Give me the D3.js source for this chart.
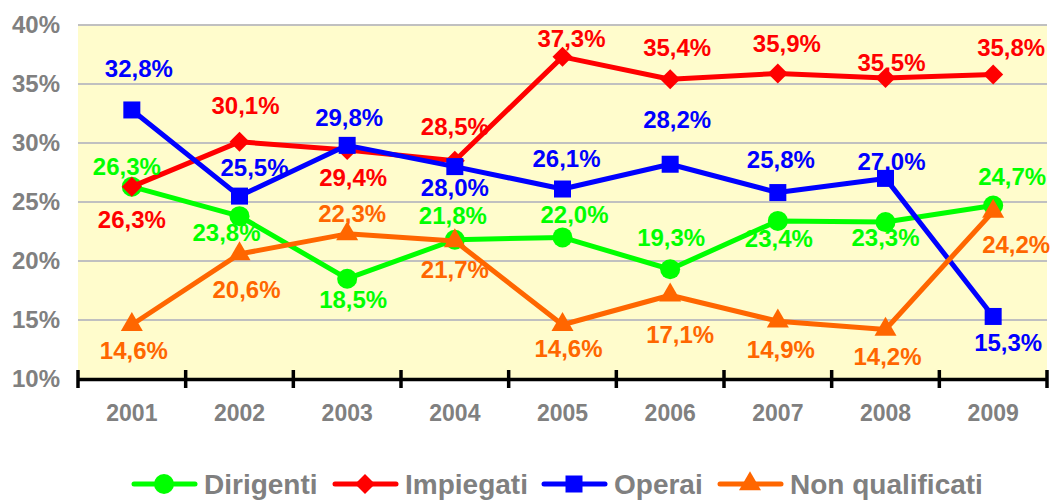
<!DOCTYPE html>
<html>
<head>
<meta charset="utf-8">
<script src="https://cdn.jsdelivr.net/npm/d3@7"></script>
<style>
body { margin:0; background:#fff; }
text { font-family: "Liberation Sans", Arial, sans-serif; font-weight:bold; }
</style>
</head>
<body>
<svg id="graph"></svg>
<script>
var years = ["2001","2002","2003","2004","2005","2006","2007","2008","2009"]
var yTicks = [10,15,20,25,30,35,40]

var dirigenti = [26.3,23.8,18.5,21.8,22.0,19.3,23.4,23.3,24.7]
var impiegati = [26.3,30.1,29.4,28.5,37.3,35.4,35.9,35.5,35.8]
var operai = [32.8,25.5,29.8,28.0,26.1,28.2,25.8,27.0,15.3]
var nonQualificati = [14.6,20.6,22.3,21.7,14.6,17.1,14.9,14.2,24.2]

var seriesNames = ["Dirigenti","Impiegati","Operai","Non qualificati"]

// value label offsets from each point (px), as placed in the original
var labelDx = [
    [-5,-13,6,-2,12,1,1,0,19],
    [0,6,6,0,9,7,9,6,18],
    [7,15,2,0,4,7,3,6,15],
    [2,7,5,0,6,10,3,2,23]
]
var labelDy = [
    [-20,16,21,-24,-23,-32,17,15,-29],
    [33,-36,27,-34,-19,-32,-30,-16,-27],
    [-42,-29,-28,21,-31,-45,-33,-17,26],
    [26,35,-21,28,24,39,28,27,33]
]

var colors = ["#00FF00","#FF0000","#0000FF","#FF6600"]
var symbols = [d3.symbolCircle,d3.symbolSquare,d3.symbolSquare,d3.symbolTriangle]
var symSizes = [314,200,289,210]
var symRotate = [0,45,0,0]

var screen = {width:1050,height:503}
var margins = {left:78,right:3,top:25,bottom:124}
var graph = {
    width:screen.width-margins.left-margins.right,
    height:screen.height-margins.top-margins.bottom
}

var svg = d3.select("#graph")
    .attr("width",screen.width)
    .attr("height",screen.height)

var xScale = d3.scaleBand()
    .domain(years)
    .range([0,graph.width])

var yScale = d3.scaleLinear()
    .domain([10,40])
    .range([graph.height,0])

var target = svg.append("g")
    .attr("transform","translate("+margins.left+","+margins.top+")")

// background
target.append("rect")
    .attr("width",graph.width)
    .attr("height",graph.height)
    .attr("fill","#FFFCCC")

// grid
target.selectAll(".grid")
    .data(yTicks.filter(function(t){return t>10}))
    .enter()
    .append("line")
    .attr("x1",0)
    .attr("x2",graph.width)
    .attr("y1",function(t){return yScale(t)})
    .attr("y2",function(t){return yScale(t)})
    .attr("stroke","#C0C0C0")
    .attr("stroke-width",2)

// y labels
var yAxis = d3.axisLeft(yScale)
    .tickValues(yTicks)
    .tickFormat(function(t){return t+"%"})
    .tickSize(0)
    .tickPadding(18)
var yG = target.append("g").call(yAxis)
yG.select(".domain").remove()
yG.selectAll("text")
    .attr("fill","#808080")
    .style("font-size","24px")

// x axis
var xAxis = d3.axisBottom(xScale).tickSize(0).tickPadding(26)
var xG = target.append("g")
    .attr("transform","translate(0,"+graph.height+")")
    .call(xAxis)
xG.select(".domain").attr("stroke","#000").attr("stroke-width",3.5)
xG.selectAll("text")
    .attr("fill","#808080")
    .style("font-size","23px")

var bounds = years.map(function(y){return xScale(y)}).concat([graph.width])
xG.selectAll(".sep")
    .data(bounds)
    .enter()
    .append("line")
    .attr("x1",function(b){return b})
    .attr("x2",function(b){return b})
    .attr("y1",-9)
    .attr("y2",9)
    .attr("stroke","#000")
    .attr("stroke-width",3.5)

var allSeries = [dirigenti,impiegati,operai,nonQualificati]
var cx = function(i){return xScale(years[i])+xScale.bandwidth()/2}

var line = d3.line()
    .x(function(d,i){return cx(i)})
    .y(function(d){return yScale(d)})

allSeries.forEach(function(vals,s)
{
    var g = target.append("g")
    g.append("path")
        .attr("d",line(vals))
        .attr("fill","none")
        .attr("stroke",colors[s])
        .attr("stroke-width",5)
        .attr("stroke-linejoin","round")
    g.selectAll(".pt")
        .data(vals)
        .enter()
        .append("path")
        .attr("d",d3.symbol().type(symbols[s]).size(symSizes[s]))
        .attr("transform",function(d,i){return "translate("+cx(i)+","+yScale(d)+") rotate("+symRotate[s]+")"})
        .attr("fill",colors[s])
})

allSeries.forEach(function(vals,s)
{
    target.append("g").selectAll(".lbl")
        .data(vals)
        .enter()
        .append("text")
        .text(function(d){return d.toFixed(1).replace(".",",")+"%"})
        .attr("text-anchor","middle")
        .attr("x",function(d,i){return cx(i)+labelDx[s][i]})
        .attr("y",function(d,i){return yScale(d)+labelDy[s][i]})
        .attr("dy","0.36em")
        .attr("fill",colors[s])
        .style("font-size","24px")
})

// legend
var legendX = [132,333,542,718]
var legend = svg.append("g")
legendX.forEach(function(lx,s)
{
    var e = legend.append("g").attr("transform","translate("+lx+",484)")
    e.append("line")
        .attr("x1",2).attr("x2",63)
        .attr("stroke",colors[s])
        .attr("stroke-width",5)
        .attr("stroke-linecap","round")
    e.append("path")
        .attr("d",d3.symbol().type(symbols[s]).size(symSizes[s]))
        .attr("transform","translate(32,0) rotate("+symRotate[s]+")")
        .attr("fill",colors[s])
    e.append("text")
        .text(seriesNames[s])
        .attr("x",72)
        .attr("y",10)
        .attr("fill","#808080")
        .style("font-size","28px")
})
</script>
</body>
</html>
